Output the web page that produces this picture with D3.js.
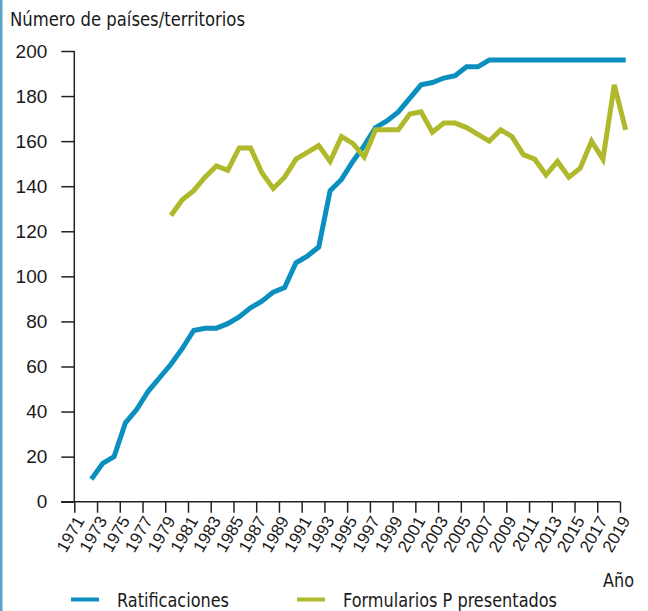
<!DOCTYPE html>
<html>
<head>
<meta charset="utf-8">
<script src="https://cdn.jsdelivr.net/npm/d3@7"></script>
<style>
  html, body { margin: 0; padding: 0; background: #fff; }
  svg { display: block; }
  text { font-family: "Liberation Sans Narrow", "Arial Narrow", "DejaVu Sans Condensed", sans-serif; fill: #1a1a1a; }
</style>
</head>
<body>
<script>
// ---- data ----
const tickYears = d3.range(1971, 2020, 2);
const yTicks = [0, 20, 40, 60, 80, 100, 120, 140, 160, 180, 200];

const ratifYears = d3.range(1972, 2020);
const ratifValues = [10, 17, 20, 35, 41, 49, 55, 61, 68, 76, 77, 77, 79, 82, 86, 89, 93, 95,
  106, 109, 113, 138, 143, 151, 158, 166, 169, 173, 179, 185, 186, 188, 189, 193, 193, 196,
  196, 196, 196, 196, 196, 196, 196, 196, 196, 196, 196, 196];

const formYears = d3.range(1979, 2020);
const formValues = [127, 134, 138, 144, 149, 147, 157, 157, 146, 139, 144, 152, 155, 158, 151,
  162, 159, 153, 165, 165, 165, 172, 173, 164, 168, 168, 166, 163, 160, 165, 162, 154, 152,
  145, 151, 144, 148, 160, 152, 185, 165];

const seriesNames = ["Ratificaciones", "Formularios P presentados"];
const colors = ["#0a8fbf", "#b0b92b"];

// ---- chart ----
const W = 648, H = 611;
const svg = d3.select("body").append("svg").attr("width", W).attr("height", H);

svg.append("rect").attr("x", 0).attr("y", 0).attr("width", 2.5).attr("height", H).attr("fill", "#5aa3c9");

const x = d3.scaleLinear().domain([1971, 2019]).range([74.3, 620]);
const y = d3.scaleLinear().domain([0, 200]).range([501.7, 51]);
const xPt = yr => x(yr + 0.5);

// title
svg.append("text").attr("x", 10).attr("y", 26).attr("font-size", 20)
  .attr("textLength", 235).attr("lengthAdjust", "spacingAndGlyphs")
  .text("Número de países/territorios");

// y axis
const yAxis = d3.axisLeft(y).tickValues(yTicks).tickSize(13).tickPadding(14).tickFormat(d3.format("d"));
const gy = svg.append("g").attr("transform", `translate(${x(1971)},0)`).call(yAxis);
gy.select(".domain").remove();
gy.append("line").attr("x1", 0).attr("x2", 0).attr("y1", y(200)).attr("y2", y(0)).attr("stroke", "#222").attr("stroke-width", 1.5);
gy.selectAll(".tick line").attr("stroke", "#222").attr("stroke-width", 1.5);
gy.selectAll(".tick text").attr("font-size", 19).attr("fill", "#1a1a1a")
  .style("font-family", '"Liberation Sans Narrow", "Arial Narrow", sans-serif');

// x axis
const xAxis = d3.axisBottom(x).tickValues(tickYears).tickSize(11).tickFormat(d3.format("d"));
const gx = svg.append("g").attr("transform", `translate(0,${y(0)})`).call(xAxis);
gx.select(".domain").remove();
gx.append("line").attr("x1", 61).attr("x2", x(2019)).attr("y1", 0).attr("y2", 0).attr("stroke", "#222").attr("stroke-width", 1.5);
gx.selectAll(".tick line").attr("stroke", "#222").attr("stroke-width", 1.5);
gx.selectAll(".tick text")
  .attr("font-size", 17)
  .attr("fill", "#1a1a1a")
  .style("font-family", '"Liberation Sans Narrow", "Arial Narrow", sans-serif')
  .attr("text-anchor", "end")
  .attr("y", 0).attr("dy", "0.35em")
  .attr("transform", "translate(5,16) rotate(-60)");

// lines
const line = d3.line().x(d => xPt(d[0])).y(d => y(d[1]));
const ratif = ratifYears.map((yr, i) => [yr, ratifValues[i]]);
const form = formYears.map((yr, i) => [yr, formValues[i]]);

svg.append("path").datum(ratif).attr("d", line).attr("fill", "none")
  .attr("stroke", colors[0]).attr("stroke-width", 5).attr("stroke-linejoin", "miter");
svg.append("path").datum(form).attr("d", line).attr("fill", "none")
  .attr("stroke", colors[1]).attr("stroke-width", 5).attr("stroke-linejoin", "miter");

// axis title
svg.append("text").attr("x", 603).attr("y", 587).attr("font-size", 20)
  .attr("textLength", 31).attr("lengthAdjust", "spacingAndGlyphs").text("Año");

// legend
const legendX = [71, 297];
const legendLen = [112, 214];
seriesNames.forEach((name, i) => {
  svg.append("line").attr("x1", legendX[i]).attr("x2", legendX[i] + 28)
    .attr("y1", 599.5).attr("y2", 599.5).attr("stroke", colors[i]).attr("stroke-width", 4);
  svg.append("text").attr("x", legendX[i] + 46).attr("y", 607).attr("font-size", 20)
    .attr("textLength", legendLen[i]).attr("lengthAdjust", "spacingAndGlyphs").text(name);
});
</script>
</body>
</html>
